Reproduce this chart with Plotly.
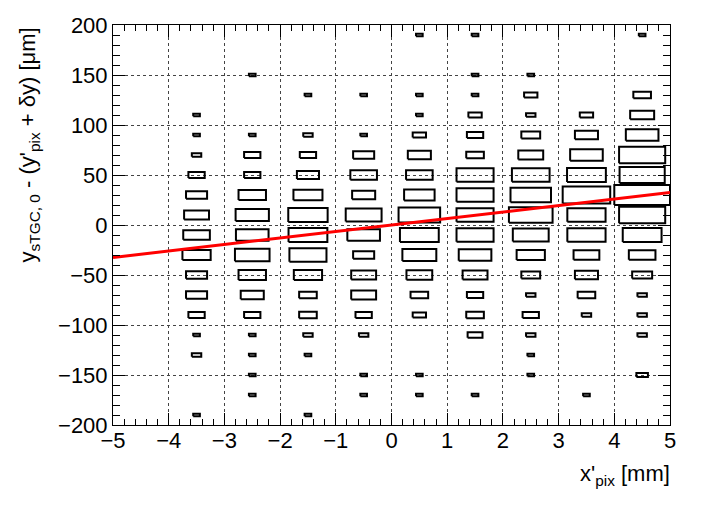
"""Box-style 2D histogram of sTGC residuals vs. pixel x, with a linear fit."""

import plotly.graph_objects as go

# bin centres (mm, um) and bin widths
x_centers = [-4.5, -3.5, -2.5, -1.5, -0.5, 0.5, 1.5, 2.5, 3.5, 4.5]
y_centers = [190, 170, 150, 130, 110, 90, 70, 50, 30, 10,
             -10, -30, -50, -70, -90, -110, -130, -150, -170, -190]
bin_dx = 1.0
bin_dy = 20.0

# entries per bin, one row per y bin (top -> bottom), one column per x bin
counts = [
    [0, 0, 0, 0, 0, 1, 1, 0, 0, 1],
    [0, 0, 0, 0, 0, 0, 0, 0, 0, 0],
    [0, 0, 1, 0, 0, 0, 1, 1, 0, 0],
    [0, 0, 0, 1, 1, 1, 1, 4, 0, 7],
    [0, 1, 0, 0, 0, 1, 4, 2, 4, 13],
    [0, 1, 1, 2, 1, 4, 6, 8, 12, 24],
    [0, 2, 6, 6, 10, 12, 7, 14, 24, 48],
    [0, 6, 6, 11, 16, 16, 31, 32, 34, 46],
    [0, 10, 17, 19, 12, 21, 31, 37, 51, 70],
    [0, 14, 25, 35, 29, 39, 31, 43, 33, 48],
    [0, 16, 24, 34, 24, 34, 31, 29, 33, 34],
    [0, 18, 27, 31, 10, 26, 24, 18, 15, 16],
    [0, 10, 17, 18, 14, 15, 14, 8, 12, 9],
    [0, 10, 12, 7, 14, 7, 6, 2, 7, 2],
    [0, 6, 6, 7, 6, 4, 7, 6, 2, 2],
    [0, 1, 1, 2, 2, 0, 5, 2, 0, 2],
    [0, 2, 1, 1, 0, 0, 0, 1, 0, 0],
    [0, 0, 1, 0, 1, 1, 0, 1, 0, 3],
    [0, 0, 1, 0, 1, 1, 1, 0, 1, 0],
    [0, 1, 0, 1, 0, 0, 0, 0, 0, 0],
]

# linear fit  y = p0 + p1 * x
fit_p0 = 0.0
fit_p1 = 6.5
fit_x = [-5.0, 5.0]

FONT = "Liberation Sans"

# box outlines, ROOT "BOX" style: side scales with sqrt(content / max)
zmax = max(max(row) for row in counts)
bx, by = [], []
for yc, row in zip(y_centers, counts):
    for xc, c in zip(x_centers, row):
        if c <= 0:
            continue
        f = (c / zmax) ** 0.5
        hx, hy = 0.5 * f * bin_dx, 0.5 * f * bin_dy
        bx += [xc - hx, xc + hx, xc + hx, xc - hx, xc - hx, None]
        by += [yc - hy, yc - hy, yc + hy, yc + hy, yc - hy, None]

fig = go.Figure()
fig.add_trace(
    go.Scatter(
        x=bx, y=by, mode="lines",
        line={"color": "black", "width": 2},
        hoverinfo="skip", showlegend=False,
    )
)
fig.add_trace(
    go.Scatter(
        x=fit_x, y=[fit_p0 + fit_p1 * v for v in fit_x], mode="lines",
        line={"color": "#ff0000", "width": 3},
        showlegend=False,
    )
)

axis_common = {
    "showline": True,
    "linecolor": "black",
    "linewidth": 1,
    "mirror": "ticks",
    "ticks": "inside",
    "tickcolor": "black",
    "tickwidth": 1,
    "ticklen": 12,
    "showgrid": True,
    "gridcolor": "#444444",
    "griddash": "dot",
    "gridwidth": 1,
    "zeroline": False,
    "tickfont": {"family": FONT, "size": 22, "color": "black"},
}

fig.update_layout(
    width=706,
    height=507,
    margin={"l": 113, "r": 36, "t": 25, "b": 82},
    paper_bgcolor="white",
    plot_bgcolor="white",
    xaxis={
        **axis_common,
        "range": [-5, 5],
        "dtick": 1,
        "tick0": -5,
        "ticklabelstandoff": -4,
        "minor": {"dtick": 0.2, "ticks": "inside", "ticklen": 6,
                  "tickcolor": "black", "showgrid": False},
    },
    yaxis={
        **axis_common,
        "range": [-200, 200],
        "dtick": 50,
        "tick0": -200,
        "minor": {"dtick": 10, "ticks": "inside", "ticklen": 7,
                  "tickcolor": "black", "showgrid": False},
    },
    annotations=[
        {
            "text": "x'<sub>pix</sub> [mm]",
            "xref": "paper", "yref": "paper",
            "x": 1.004, "y": -0.085,
            "xanchor": "right", "yanchor": "top",
            "showarrow": False,
            "font": {"family": FONT, "size": 22, "color": "black"},
        },
        {
            "text": "y<sub>sTGC, 0</sub> - (y'<sub>pix</sub> + δy) [μm]",
            "xref": "paper", "yref": "paper",
            "x": -0.151, "y": 1.0,
            "xanchor": "center", "yanchor": "top",
            "textangle": -90,
            "showarrow": False,
            "font": {"family": FONT, "size": 22, "color": "black"},
        },
    ],
)

# drop the default page margin so the figure sits at the window's corner
fig.write_html(
    "out.html",
    config={"displayModeBar": False},
    post_script="document.body.style.margin = '0px';",
)
